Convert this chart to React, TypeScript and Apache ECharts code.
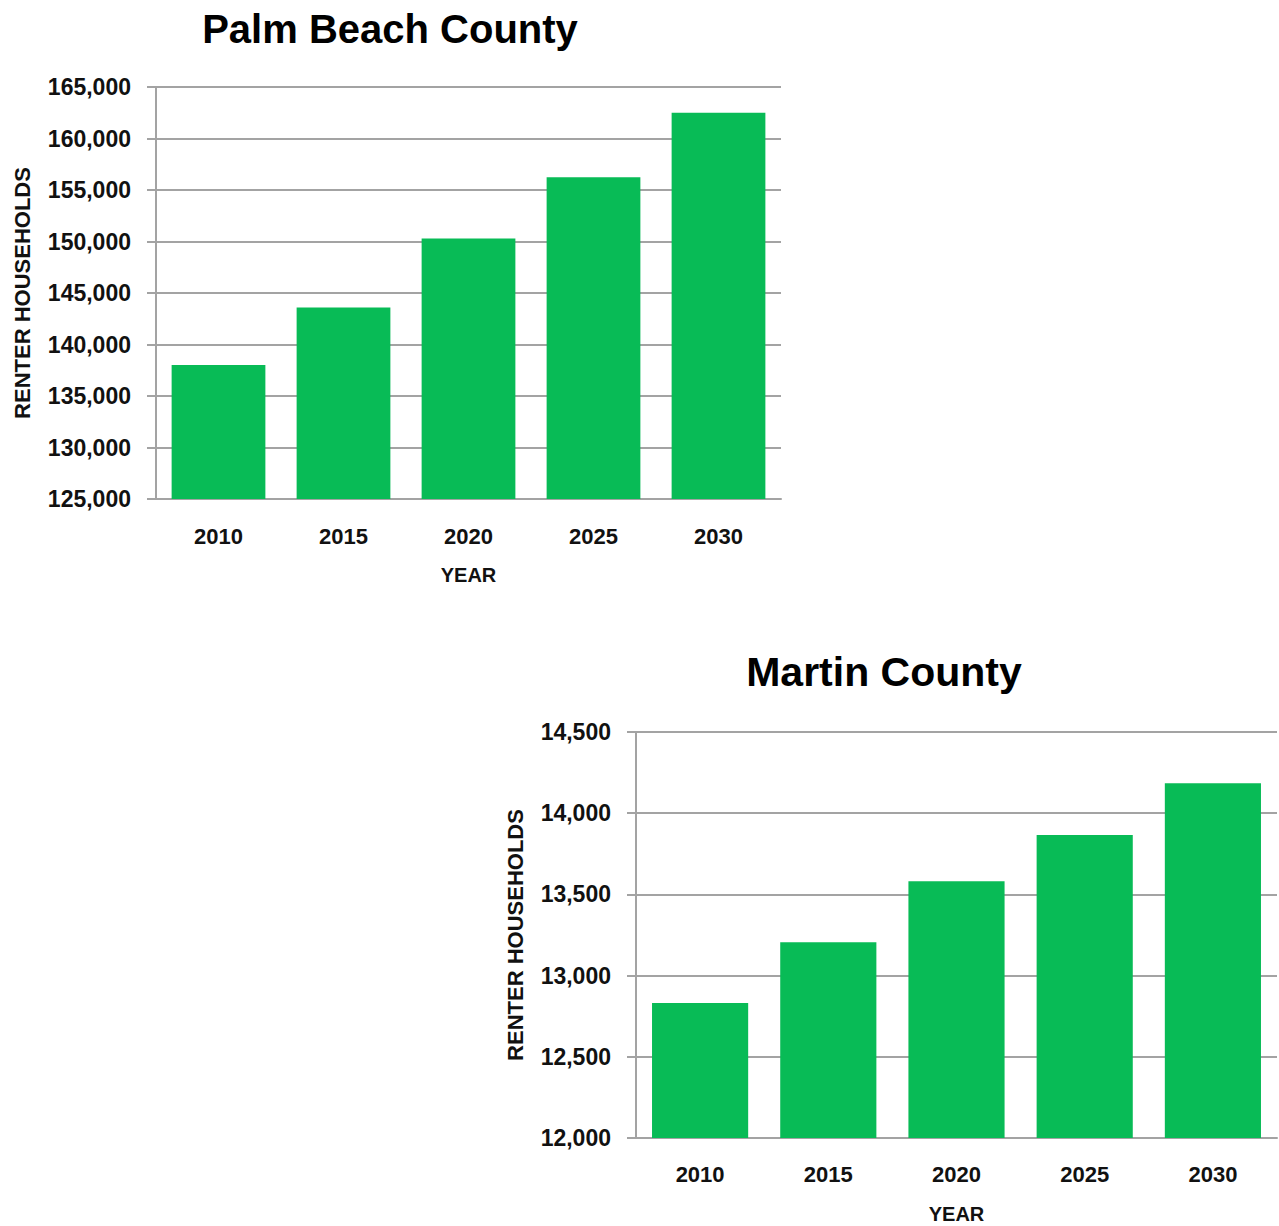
import React, { useEffect, useRef } from "react";
import * as echarts from "echarts";

const years = ["2010", "2015", "2020", "2025", "2030"];
const palmBeachValues = [138000, 143600, 150300, 156250, 162500];
const martinValues = [12832, 13206, 13581, 13866, 14185];
const palmTitle = "Palm Beach County";
const martinTitle = "Martin County";
const yName = "RENTER HOUSEHOLDS";
const xName = "YEAR";

const FONT = "'Liberation Sans', Arial, sans-serif";
const GREEN = "#08BB56";
const GRAY = "#a3a3a3";

function fmt(v: number) {
  return v.toLocaleString("en-US");
}

export default function App() {
  const ref = useRef<HTMLDivElement>(null);
  useEffect(() => {
    document.body.style.margin = "0";
    const chart = echarts.init(ref.current!, null, { renderer: "svg" });
    const xAxisBase = (gridIndex: number, margin: number) => ({
      type: "category" as const,
      gridIndex,
      data: years,
      name: xName,
      nameLocation: "middle" as const,
      nameGap: 66,
      nameTextStyle: { fontFamily: FONT, fontWeight: "bold", fontSize: 20, color: "#111" },
      axisLine: { show: true, lineStyle: { color: GRAY, width: 2 } },
      axisTick: { show: false },
      axisLabel: { margin, fontFamily: FONT, fontWeight: "bold", fontSize: 22, color: "#111" },
    });
    const yAxisBase = (gridIndex: number, min: number, max: number, interval: number, nameGap: number) => ({
      type: "value" as const,
      gridIndex,
      min,
      max,
      interval,
      name: yName,
      nameLocation: "middle" as const,
      nameGap,
      nameRotate: 90,
      nameTextStyle: { fontFamily: FONT, fontWeight: "bold", fontSize: 22, color: "#111" },
      axisLine: { show: true, lineStyle: { color: GRAY, width: 2 } },
      axisTick: { show: true, length: 9, lineStyle: { color: GRAY, width: 2 } },
      splitLine: { show: true, lineStyle: { color: GRAY, width: 2 } },
      axisLabel: {
        margin: 25,
        fontFamily: FONT,
        fontWeight: "bold",
        fontSize: 23,
        color: "#111",
        formatter: (v: number) => fmt(v),
      },
    });
    chart.setOption({
      animation: false,
      backgroundColor: "#fff",
      title: [
        {
          text: palmTitle,
          left: 385,
          top: 4,
          textAlign: "center",
          textStyle: { fontFamily: FONT, fontWeight: "bold", fontSize: 40, color: "#000" },
        },
        {
          text: martinTitle,
          left: 879,
          top: 646,
          textAlign: "center",
          textStyle: { fontFamily: FONT, fontWeight: "bold", fontSize: 41, color: "#000" },
        },
      ],
      grid: [
        { left: 156, top: 87, width: 625, height: 412, containLabel: false },
        { left: 636, top: 732, width: 641, height: 406, containLabel: false },
      ],
      xAxis: [xAxisBase(0, 26), xAxisBase(1, 25)],
      yAxis: [
        yAxisBase(0, 125000, 165000, 5000, 123),
        yAxisBase(1, 12000, 14500, 500, 110),
      ],
      series: [
        {
          type: "bar",
          xAxisIndex: 0,
          yAxisIndex: 0,
          data: palmBeachValues,
          barCategoryGap: "25%",
          itemStyle: { color: GREEN },
        },
        {
          type: "bar",
          xAxisIndex: 1,
          yAxisIndex: 1,
          data: martinValues,
          barCategoryGap: "25%",
          itemStyle: { color: GREEN },
        },
      ],
    });
    return () => chart.dispose();
  }, []);
  return (
    <div
      ref={ref}
      style={{ position: "absolute", left: 0, top: 0, width: 1279, height: 1226 }}
    />
  );
}
